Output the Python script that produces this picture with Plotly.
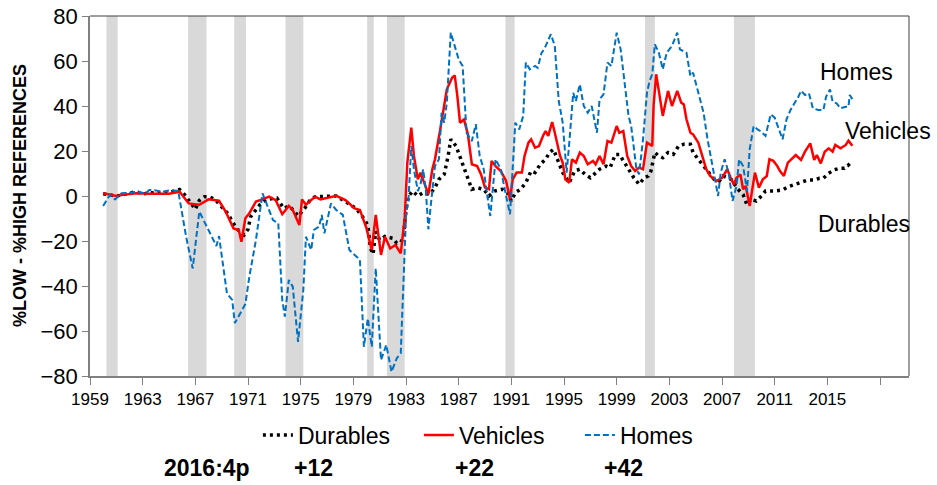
import plotly.graph_objects as go

# Series (decimal year, %low - %high references)
durables_year = [
    1960.0, 1960.5, 1961.0, 1961.5, 1962.0, 1962.5, 1963.0, 1963.5, 1964.0, 1964.5,
    1965.0, 1965.5, 1965.8, 1966.2, 1966.5, 1967.0, 1967.3, 1967.7, 1968.0, 1968.5,
    1969.1, 1969.5, 1969.8, 1970.2, 1970.7, 1971.0, 1971.2, 1971.5, 1971.9, 1972.4,
    1973.2, 1973.7, 1974.1, 1974.5, 1974.8, 1975.3, 1975.7, 1976.1, 1976.8, 1977.7,
    1978.4, 1979.2, 1979.7, 1980.1, 1980.3, 1980.5, 1980.7, 1981.0, 1981.4, 1981.7,
    1982.0, 1982.3, 1982.6, 1982.8, 1983.0, 1983.2, 1983.5, 1983.9, 1984.3, 1984.8,
    1985.2, 1985.5, 1985.9, 1986.2, 1986.4, 1986.8, 1987.2, 1987.6, 1988.0, 1988.4,
    1988.9, 1989.3, 1989.7, 1990.3, 1990.7, 1991.0, 1991.3, 1991.7, 1992.1, 1992.5,
    1992.8, 1993.2, 1993.6, 1993.9, 1994.2, 1994.5, 1994.9, 1995.4, 1995.8, 1996.2,
    1996.6, 1997.0, 1997.3, 1997.7, 1998.2, 1998.5, 1998.9, 1999.2, 1999.6, 2000.0,
    2000.3, 2000.7, 2001.1, 2001.4, 2001.6, 2001.9, 2002.2, 2002.5, 2002.9, 2003.3,
    2003.7, 2004.1, 2004.6, 2004.8, 2005.2, 2005.6, 2006.0, 2006.4, 2006.8, 2007.1,
    2007.7, 2008.2, 2008.6, 2008.9, 2009.2, 2009.6, 2010.0, 2010.3, 2011.0, 2011.6,
    2012.0, 2012.4, 2013.0, 2013.5, 2014.0, 2014.4, 2014.7, 2015.1, 2015.5, 2015.9,
    2016.3, 2016.6, 2016.9,
]
durables = [
    1.0, 0.5, 0.0, 0.5, 1.2, 2.0, 0.8, 1.5, 1.2, 1.8,
    1.5, 2.2, 2.9, 0.5, -1.9, -5.9, -2.0, -0.3, -0.3, -1.5,
    -5.5, -8.0, -11.4, -14.8, -17.3, -14.8, -9.2, -6.9, -3.9, -1.5,
    -0.9, -5.5, -4.4, -6.5, -8.9, -5.5, -2.0, -0.3, 0.0, 0.0,
    -2.5, -5.5, -9.2, -12.9, -23.3, -25.8, -15.8, -19.6, -18.0, -18.4,
    -18.8, -21.0, -20.7, -18.4, -6.0, 0.0, 2.2, 0.0, 1.5, 0.7,
    3.7, 7.4, 9.6, 17.8, 25.2, 22.2, 15.6, 9.6, 3.0, 3.7,
    3.0, 0.0, 2.2, 3.0, 1.5, -2.2, 1.5, 3.0, 5.9, 11.1,
    10.4, 14.1, 16.3, 19.3, 20.7, 16.3, 10.4, 5.9, 11.1, 11.9,
    9.6, 8.1, 9.6, 11.9, 13.3, 12.6, 18.5, 18.5, 14.8, 11.1,
    8.1, 5.2, 8.1, 8.9, 11.1, 19.3, 17.8, 17.0, 19.3, 18.5,
    22.2, 23.0, 23.0, 19.3, 16.3, 13.3, 10.4, 7.4, 6.7, 8.9,
    7.4, 3.0, 0.7, -4.0, -1.5, -2.2, 0.0, 2.2, 2.2, 2.7,
    4.1, 4.9, 5.9, 7.1, 7.1, 7.9, 7.9, 10.1, 11.6, 12.3,
    12.3, 13.8, 11.9,
]

vehicles_year = [
    1960.0, 1960.5, 1961.0, 1961.5, 1962.0, 1962.5, 1963.5, 1964.5, 1965.0, 1965.8,
    1966.1, 1966.5, 1967.3, 1968.0, 1968.8, 1969.3, 1969.9, 1970.3, 1970.5, 1970.8,
    1971.1, 1971.6, 1972.1, 1972.6, 1973.1, 1973.6, 1974.1, 1974.4, 1974.9, 1975.1,
    1975.4, 1976.1, 1976.5, 1977.0, 1977.7, 1978.4, 1979.1, 1979.5, 1980.0, 1980.4,
    1980.7, 1981.1, 1981.4, 1981.8, 1982.2, 1982.6, 1982.9, 1983.1, 1983.4, 1983.6,
    1983.9, 1984.1, 1984.5, 1984.7, 1985.0, 1985.2, 1985.6, 1986.1, 1986.5, 1986.7,
    1986.9, 1987.1, 1987.4, 1987.7, 1988.0, 1988.4, 1988.7, 1989.0, 1989.3, 1989.5,
    1989.8, 1990.2, 1990.6, 1990.9, 1991.1, 1991.4, 1991.8, 1992.0, 1992.3, 1992.5,
    1992.8, 1993.1, 1993.4, 1993.6, 1993.8, 1994.1, 1994.3, 1994.7, 1994.9, 1995.1,
    1995.4, 1995.6, 1995.9, 1996.2, 1996.5, 1996.8, 1997.2, 1997.4, 1997.7, 1998.0,
    1998.3, 1998.6, 1999.0, 1999.2, 1999.5, 1999.8, 2000.1, 2000.4, 2000.7, 2001.0,
    2001.3, 2001.7, 2001.8, 2002.0, 2002.5, 2002.9, 2003.2, 2003.6, 2003.9, 2004.1,
    2004.3, 2004.6, 2004.8, 2005.2, 2005.5, 2005.8, 2006.1, 2006.4, 2006.6, 2007.0,
    2007.4, 2007.7, 2007.9, 2008.1, 2008.4, 2008.6, 2008.8, 2009.1, 2009.3, 2009.5,
    2009.8, 2010.1, 2010.4, 2010.6, 2010.9, 2011.2, 2011.4, 2011.7, 2012.0, 2012.3,
    2012.6, 2013.0, 2013.3, 2013.7, 2014.0, 2014.2, 2014.5, 2014.8, 2015.1, 2015.4,
    2015.6, 2016.0, 2016.4, 2016.6, 2016.9,
]
vehicles = [
    1.2, 0.5, 0.0, 0.5, 0.8, 1.2, 1.0, 1.2, 1.0, 1.9,
    -0.5, -3.3, -3.9, -1.5, -2.1, -6.9, -14.4, -15.1, -20.3, -9.9,
    -7.7, -2.5, -1.5, -0.3, -1.8, -8.1, -4.4, -6.2, -12.9, -1.5,
    -3.9, -0.3, -1.5, -0.8, 0.1, -1.8, -5.5, -6.2, -14.4, -24.0,
    -8.4, -26.2, -18.1, -23.3, -21.8, -25.5, -10.0, 14.8, 30.4, 17.8,
    7.4, 10.4, 4.4, 0.7, 11.9, 16.3, 29.6, 47.4, 52.6, 53.6,
    44.4, 32.6, 34.0, 27.4, 14.1, 13.3, 9.6, 3.7, 3.0, 15.6,
    13.3, 11.1, 6.7, -1.5, 7.4, 10.4, 10.4, 17.8, 23.7, 25.2,
    21.5, 22.2, 26.7, 28.9, 26.7, 32.9, 28.1, 17.8, 14.8, 7.4,
    5.9, 16.3, 14.8, 19.3, 17.8, 14.1, 15.6, 14.1, 17.8, 14.1,
    24.4, 23.7, 31.1, 28.1, 28.9, 17.8, 13.3, 11.1, 12.6, 11.9,
    23.7, 22.2, 40.0, 54.1, 35.6, 46.7, 40.0, 46.7, 41.5, 40.7,
    34.1, 28.1, 27.4, 23.7, 17.8, 11.9, 8.9, 7.4, 6.7, 8.1,
    11.9, 7.4, 5.2, 8.1, 9.6, 3.0, 4.4, -4.4, 3.0, 10.4,
    3.7, 7.4, 8.9, 16.3, 15.6, 13.3, 11.1, 8.9, 14.8, 16.7,
    18.2, 16.0, 19.7, 23.4, 16.0, 18.2, 14.5, 19.7, 21.2, 19.7,
    22.7, 21.2, 22.7, 24.6, 22.3,
]

homes_year = [
    1960.0, 1960.5, 1960.9, 1961.4, 1962.0, 1962.7, 1963.2, 1963.5, 1964.0, 1964.5,
    1965.0, 1965.7, 1966.3, 1966.8, 1967.3, 1968.0, 1968.6, 1968.8, 1969.4, 1969.8,
    1970.0, 1970.8, 1971.1, 1971.6, 1972.1, 1972.4, 1972.9, 1973.3, 1973.6, 1973.8,
    1974.1, 1974.4, 1974.8, 1975.2, 1975.4, 1975.8, 1976.0, 1976.4, 1976.6, 1976.8,
    1977.3, 1977.7, 1978.2, 1978.7, 1979.5, 1979.8, 1980.1, 1980.4, 1980.7, 1981.1,
    1981.5, 1981.9, 1982.3, 1982.6, 1982.8, 1983.0, 1983.2, 1983.4, 1983.6, 1983.9,
    1984.1, 1984.3, 1984.5, 1984.7, 1984.9, 1985.2, 1985.5, 1985.7, 1985.9, 1986.1,
    1986.4, 1986.7, 1987.0, 1987.3, 1987.6, 1988.0, 1988.3, 1988.6, 1988.9, 1989.1,
    1989.4, 1989.8, 1990.2, 1990.6, 1990.9, 1991.3, 1991.6, 1991.9, 1992.1, 1992.4,
    1992.8, 1993.0, 1993.3, 1993.5, 1994.0, 1994.3, 1994.6, 1994.9, 1995.2, 1995.4,
    1995.7, 1995.9, 1996.2, 1996.5, 1996.8, 1997.1, 1997.5, 1997.7, 1998.0, 1998.3,
    1998.6, 1999.0, 1999.3, 1999.6, 1999.9, 2000.1, 2000.5, 2000.7, 2001.0, 2001.3,
    2001.5, 2001.7, 2001.9, 2002.2, 2002.5, 2002.8, 2003.2, 2003.6, 2003.8, 2004.3,
    2004.6, 2004.8, 2005.2, 2005.6, 2005.9, 2006.2, 2006.5, 2006.7, 2006.9, 2007.2,
    2007.5, 2007.8, 2008.1, 2008.3, 2008.6, 2008.9, 2009.1, 2009.4, 2009.7, 2009.9,
    2010.3, 2010.7, 2011.0, 2011.3, 2011.6, 2011.9, 2012.2, 2012.5, 2012.8, 2013.0,
    2013.3, 2013.6, 2013.9, 2014.3, 2014.7, 2014.9, 2015.2, 2015.4, 2015.7, 2016.0,
    2016.4, 2016.6, 2016.7, 2016.9,
]
homes = [
    -4.4, 0.4, -1.5, 1.2, 1.5, 1.9, 1.0, 2.7, 2.5, 1.8,
    2.5, 2.3, -18.1, -32.2, -6.9, -15.1, -22.2, -17.8, -43.3, -46.2,
    -56.5, -48.0, -35.9, -19.6, 1.2, -3.3, -10.7, -12.1, -46.2, -53.6,
    -37.3, -40.3, -64.8, -41.8, -18.1, -24.0, -15.1, -13.6, -8.4, -16.6,
    -3.3, -6.2, -8.4, -24.0, -28.4, -67.0, -54.4, -67.0, -32.1, -72.9,
    -66.2, -78.1, -72.1, -69.9, -38.8, -8.9, 0.0, 22.2, 11.9, 2.2,
    5.2, 11.9, 3.0, -14.8, -3.0, 13.3, 16.3, 37.0, 32.6, 41.5,
    72.6, 66.7, 60.7, 57.8, 28.1, 24.4, 31.9, 17.8, 11.9, 3.0,
    -8.9, 16.3, 11.9, 0.0, -8.1, 32.6, 29.6, 35.6, 59.3, 56.3,
    57.8, 57.0, 63.7, 65.2, 71.9, 66.7, 42.2, 32.6, 10.4, 23.7,
    45.9, 42.2, 49.6, 40.0, 37.0, 40.0, 28.1, 42.9, 45.2, 59.3,
    57.8, 72.6, 65.2, 50.4, 35.6, 31.1, 11.9, 9.6, 25.2, 45.9,
    51.1, 54.1, 67.4, 63.7, 56.3, 63.7, 66.7, 72.6, 65.2, 63.7,
    53.3, 54.8, 45.9, 37.0, 25.2, 16.3, 5.9, 0.0, 10.4, 16.3,
    10.4, -2.2, 4.4, 16.3, 13.3, 2.2, 20.7, 31.1, 29.6, 28.9,
    26.7, 36.3, 34.8, 29.6, 25.2, 34.1, 38.2, 41.2, 44.1, 46.8,
    44.9, 45.6, 39.0, 38.2, 38.2, 44.1, 47.4, 41.9, 41.2, 39.0,
    39.7, 39.7, 44.9, 43.0,
]

# NBER-style recession bands shown in grey
recession_start = [1960.25, 1966.45, 1969.95, 1973.85, 1980.05, 1981.55, 1990.55, 2001.15, 2007.9]
recession_end = [1961.1, 1967.85, 1970.85, 1975.2, 1980.55, 1982.9, 1991.25, 2001.9, 2009.5]

tick_years = [1959, 1963, 1967, 1971, 1975, 1979, 1983, 1987, 1991,
              1995, 1999, 2003, 2007, 2011, 2015, 2019]
tick_labels = [str(y) for y in tick_years[:-1]] + [""]

latest_label = "2016:4p"
latest_values = ["+12", "+22", "+42"]

FONT = "Arial, Liberation Sans, sans-serif"

fig = go.Figure()
fig.add_trace(go.Scatter(
    x=durables_year, y=durables, mode="lines", name="Durables",
    line=dict(color="black", width=3.5, dash="3px,4px"),
))
fig.add_trace(go.Scatter(
    x=vehicles_year, y=vehicles, mode="lines", name="Vehicles",
    line=dict(color="#FF0000", width=2.5),
))
fig.add_trace(go.Scatter(
    x=homes_year, y=homes, mode="lines", name="Homes",
    line=dict(color="#0070C0", width=2, dash="6px,3px"),
))

shapes = [
    dict(type="rect", xref="x", yref="paper", x0=s, x1=e, y0=0, y1=1,
         fillcolor="#D9D9D9", line=dict(width=0), layer="below")
    for s, e in zip(recession_start, recession_end)
]
# top and right frame of plot area
shapes.append(dict(type="line", xref="paper", yref="paper", x0=0, x1=1, y0=1, y1=1,
                   line=dict(color="#404040", width=1)))
shapes.append(dict(type="line", xref="paper", yref="paper", x0=1, x1=1, y0=0, y1=1,
                   line=dict(color="#404040", width=1)))

annotations = [
    dict(text="Homes", x=2014.3, y=55, xanchor="left"),
    dict(text="Vehicles", x=2016.2, y=29, xanchor="left"),
    dict(text="Durables", x=2014.1, y=-12.5, xanchor="left"),
]
for a in annotations:
    a.update(xref="x", yref="y", showarrow=False, yanchor="middle",
             font=dict(family=FONT, size=23, color="black"))

# y-axis title placed by hand so it does not push the margin
annotations.append(dict(
    text="<b>%LOW - %HIGH REFERENCES</b>", xref="paper", yref="paper",
    x=-70 / 819, y=0.5, xanchor="center", yanchor="middle", textangle=-90,
    showarrow=False, font=dict(family=FONT, size=18, color="black"),
))

bottom_x = [0.143, 0.2735, 0.469, 0.651]
for txt, bx in zip([latest_label] + latest_values, bottom_x):
    annotations.append(dict(
        text=f"<b>{txt}</b>", xref="paper", yref="paper", x=bx, y=-0.256,
        xanchor="center", yanchor="middle", showarrow=False,
        font=dict(family=FONT, size=23, color="black"),
    ))

fig.update_layout(
    width=937, height=485,
    margin=dict(l=90, r=28, t=16, b=109),
    paper_bgcolor="white", plot_bgcolor="white",
    font=dict(family=FONT, color="black"),
    shapes=shapes,
    annotations=annotations,
    legend=dict(
        orientation="h", x=0.205, xanchor="left", y=-0.164, yanchor="middle",
        entrywidth=116, font=dict(family=FONT, size=23),
        bgcolor="rgba(0,0,0,0)",
    ),
    xaxis=dict(
        range=[1959, 2021.2], tickvals=tick_years, ticktext=tick_labels,
        showgrid=False, zeroline=False, showline=True, linecolor="#808080",
        linewidth=1.5, ticks="outside", ticklen=7, tickcolor="#808080",
        tickfont=dict(family=FONT, size=17, color="black"), automargin=False,
    ),
    yaxis=dict(
        range=[-80, 80], dtick=20, showgrid=False, zeroline=False,
        showline=True, linecolor="#808080", linewidth=1.5,
        ticks="outside", ticklen=6, tickcolor="#808080",
        tickfont=dict(family=FONT, size=22, color="black"), automargin=False,
    ),
)

# drop the browser's default body margin so the 937x485 figure fits the window
fig.write_html("out.html", config={"displayModeBar": False},
               post_script="document.body.style.margin = '0';")
